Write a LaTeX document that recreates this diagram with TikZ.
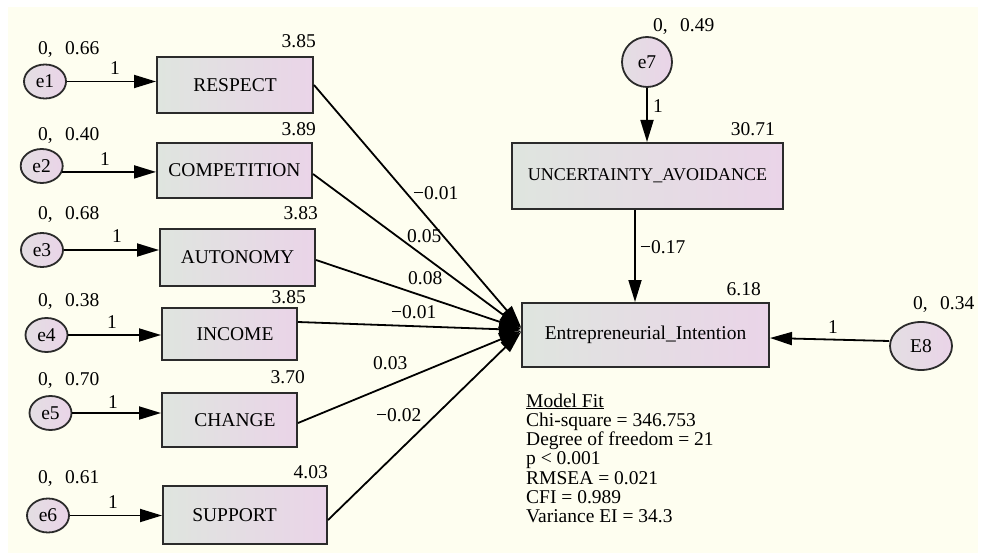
\documentclass[tikz,border=0pt]{standalone}
\usepackage{fontspec}
\setmainfont{Liberation Serif}
\usetikzlibrary{arrows.meta,shapes.geometric}
\definecolor{bgc}{HTML}{FEFEF0}
\definecolor{gl}{HTML}{DFE5DF}
\definecolor{gr}{HTML}{EAD4E8}
\definecolor{bd}{HTML}{2B2B2B}
\newcommand\fs{\fontsize{19.5}{19.3}\selectfont}
\newcommand\fsua{\fontsize{18}{18}\selectfont}
\newcommand\vv[2]{#1,\hspace{12.4pt}#2}
\begin{document}
\begin{tikzpicture}[x=1pt,y=-1pt,
  box/.style={draw=bd, line width=2pt, rectangle, left color=gl, right color=gr, inner sep=0pt, font=\fs},
  err/.style={draw=bd, line width=1.8pt, ellipse, left color=gl!60!gr, right color=gr, inner sep=0pt, font=\fs},
  lab/.style={inner sep=0pt, font=\fs},
  conn/.style={draw=black, line width=1.8pt, -{Triangle[length=22pt,width=13pt]}},
]
\fill[white] (0,0) rectangle (984,553);
\useasboundingbox (0,0) rectangle (984,553);
\fill[bgc] (8,7) rectangle (978,553);

% error terms
\node[err, minimum width=42, minimum height=34] (e1) at (45,81.5) {e1};
\node[err, minimum width=42, minimum height=34] (e2) at (41.7,166) {e2};
\node[err, minimum width=42, minimum height=34] (e3) at (42,250) {e3};
\node[err, minimum width=42, minimum height=34] (e4) at (46.5,335) {e4};
\node[err, minimum width=42, minimum height=34] (e5) at (50.5,413) {e5};
\node[err, minimum width=42, minimum height=34] (e6) at (48,515.5) {e6};
\node[err, minimum width=50, minimum height=50] (e7) at (647,62) {e7};
\node[err, minimum width=62, minimum height=48] (E8) at (921,346) {E8};

% observed variables
\node[box, minimum width=156, minimum height=56] (respect) at (235,85) {RESPECT};
\node[box, minimum width=155, minimum height=55] (competition) at (234.5,170.5) {COMPETITION};
\node[box, minimum width=155, minimum height=57] (autonomy) at (237.5,257.5) {AUTONOMY};
\node[box, minimum width=135, minimum height=52] (income) at (229.5,334) {\hspace*{11pt}INCOME};
\node[box, minimum width=135, minimum height=54] (change) at (229.5,420) {\hspace*{11pt}CHANGE};
\node[box, minimum width=164, minimum height=58] (support) at (245,515) {SUPPORT\hspace*{21pt}};
\node[box, minimum width=271, minimum height=66, font=\fsua] (ua) at (647.5,176) {UNCERTAINTY\_AVOIDANCE};
\node[box, minimum width=247, minimum height=64] (ei) at (645.5,335) {Entrepreneurial\_Intention};

% error paths
\foreach \e/\b in {e1/respect,e3/autonomy,e4/income,e5/change,e6/support}
  \draw[conn] (\e.east) -- (\e.east -| \b.west);
\draw[conn] (e2.-16) -- (e2.-16 -| competition.west);
\draw[conn] (e7.south) -- (e7.south |- ua.north);
\draw[conn] ([yshift=5pt]E8.west) -- ([yshift=-3pt]ei.east);

% structural paths
\draw[conn] (respect.east) -- ([yshift=8pt]ei.west);
\draw[conn] ([yshift=-3.5pt]competition.east) -- ([yshift=7pt]ei.west);
\draw[conn] ([yshift=-2.5pt]autonomy.east) -- ([yshift=6pt]ei.west);
\draw[conn] ([yshift=12pt]income.east) -- ([yshift=5pt]ei.west);
\draw[conn] ([yshift=-3pt]change.east) -- ([yshift=4pt]ei.west);
\draw[conn] ([yshift=-5pt]support.east) -- ([yshift=3pt]ei.west);
\draw[conn] ([xshift=-12.5pt]ua.south) -- ([xshift=-12.5pt]ua.south |- ei.north);

% variance labels
\node[lab, anchor=base west] (v1) at (38,55) {\vv{0}{0.66}};
\node[lab, anchor=base west] (v2) at (38,140.7) {\vv{0}{0.40}};
\node[lab, anchor=base west] (v3) at (38,219) {\vv{0}{0.68}};
\node[lab, anchor=base west] (v4) at (38,306) {\vv{0}{0.38}};
\node[lab, anchor=base west] (v5) at (38,385) {\vv{0}{0.70}};
\node[lab, anchor=base west] (v6) at (38,483) {\vv{0}{0.61}};
\node[lab, anchor=base west] (v7) at (653,32) {\vv{0}{0.49}};
\node[lab, anchor=base west] (v8) at (913,309) {\vv{0}{0.34}};

% intercepts
\node[lab, anchor=base east] (m1) at (316,48) {3.85};
\node[lab, anchor=base east] (m2) at (316,136) {3.89};
\node[lab, anchor=base east] (m3) at (318,219) {3.83};
\node[lab, anchor=base east] (m4) at (306,303) {3.85};
\node[lab, anchor=base east] (m5) at (305,383) {3.70};
\node[lab, anchor=base east] (m6) at (328,478) {4.03};
\node[lab, anchor=base east] (m7) at (775,136) {30.71};
\node[lab, anchor=base east] (m8) at (761,295) {6.18};

% fixed loadings
\node[lab, anchor=base] (w1) at (115,75) {1};
\node[lab, anchor=base] (w2) at (105,165.7) {1};
\node[lab, anchor=base] (w3) at (117,243) {1};
\node[lab, anchor=base] (w4) at (112,328) {1};
\node[lab, anchor=base] (w5) at (113,408) {1};
\node[lab, anchor=base] (w6) at (113,508) {1};
\node[lab, anchor=base] (w7) at (658,113) {1};
\node[lab, anchor=base] (w8) at (833,333) {1};

% path coefficients
\node[lab, anchor=base west] (c1) at (413,200) {−0.01};
\node[lab, anchor=base west] (c2) at (407,243) {0.05};
\node[lab, anchor=base west] (c3) at (408,284) {0.08};
\node[lab, anchor=base west] (c4) at (391,318) {−0.01};
\node[lab, anchor=base west] (c5) at (373,369) {0.03};
\node[lab, anchor=base west] (c6) at (376,421) {−0.02};
\node[lab, anchor=base west] (c7) at (640,254) {−0.17};

% model fit
\foreach \t [count=\i from 0] in {\underline{Model Fit},Chi-square = 346.753,Degree of freedom = 21,p < 0.001,RMSEA = 0.021,CFI = 0.989,Variance EI = 34.3}
  \node[lab, anchor=base west] (mf\i) at (526,407+19.3*\i) {\t};
\end{tikzpicture}
\end{document}
